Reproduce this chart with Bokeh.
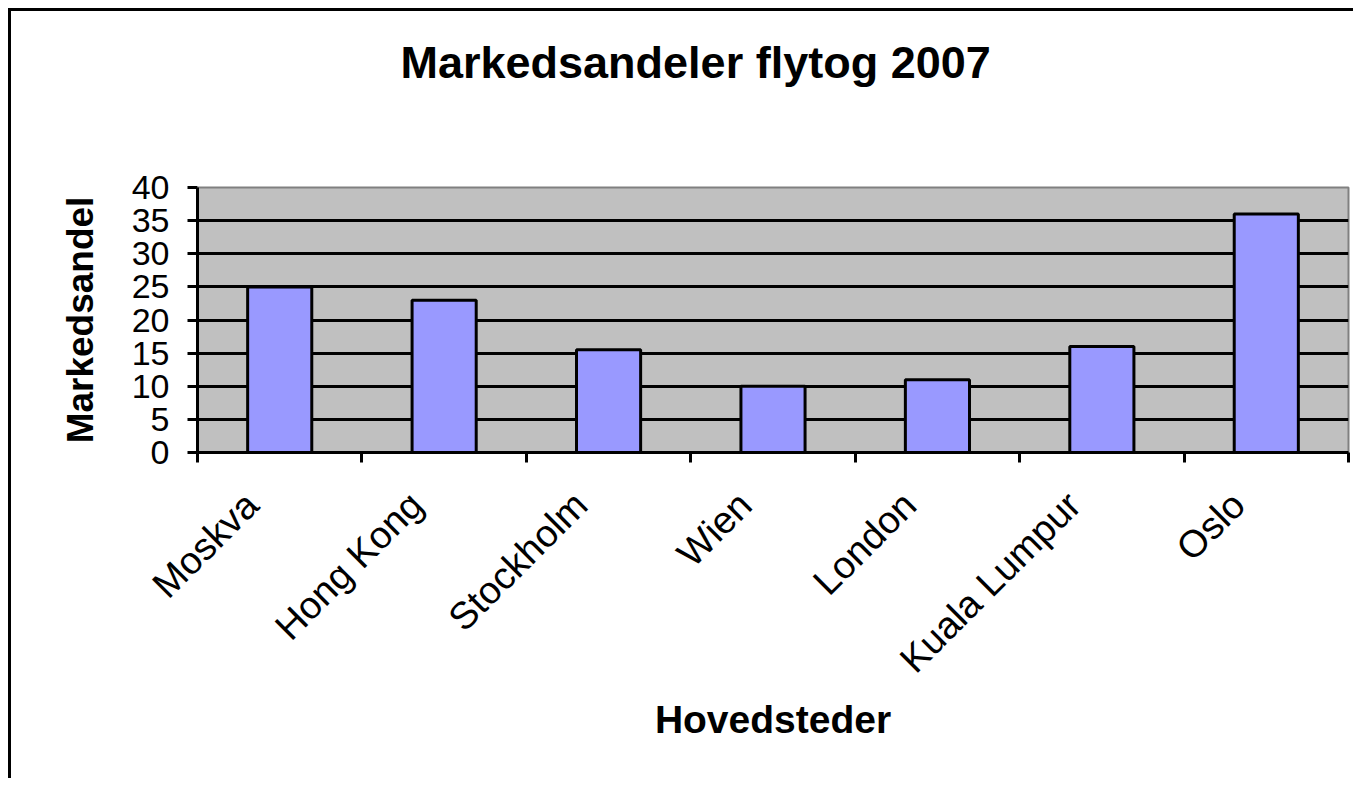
import math
from bokeh.plotting import figure
from bokeh.models import FixedTicker, Range1d, ColumnDataSource, Title, LinearAxis
from bokeh.embed import file_html
from bokeh.resources import INLINE

# ---- data ----
cities = ["Moskva", "Hong Kong", "Stockholm", "Wien", "London", "Kuala Lumpur", "Oslo"]
shares = [25, 23, 15.5, 10, 11, 16, 36]
y_ticks = [0, 5, 10, 15, 20, 25, 30, 35, 40]
title_text = "Markedsandeler flytog 2007"
x_label = "Hovedsteder"
y_label = "Markedsandel"

FONT = "Liberation Sans"
LABEL_SHIFT = 0.17  # label anchor shift (Excel-like rotated label placement)

xs = [i + 0.5 for i in range(len(cities))]
label_pos = [x - LABEL_SHIFT for x in xs]
source = ColumnDataSource(data=dict(x=xs, top=shares, city=cities))

p = figure(
    width=1345, height=770,
    x_range=Range1d(0, len(cities)), y_range=Range1d(0, 40),
    output_backend="svg", toolbar_location=None,
    min_border_left=186, min_border_top=176,
    min_border_right=8, min_border_bottom=329,
)
p.styles = {"border-left": "3px solid black", "border-top": "3px solid black",
            "margin-left": "8px", "margin-top": "8px"}

# keep references to the real axes before anything else is added
xa = p.below[0]
ya = p.left[0]

p.background_fill_color = "#C0C0C0"
p.border_fill_color = "white"
p.outline_line_color = "#808080"
p.outline_line_width = 2

# title: blank spacer axis next to the frame, real title stacked above it
p.title.text = ""
spacer = LinearAxis(ticker=FixedTicker(ticks=[0]), axis_line_color=None,
                    major_tick_line_color="white", minor_tick_line_color=None,
                    major_tick_out=88, major_tick_in=0,
                    major_label_text_color=None, major_label_standoff=0)
p.add_layout(spacer, "above")
main_title = Title(text=title_text, text_font=FONT, text_font_size="45px",
                   text_font_style="bold", text_color="black",
                   align="left", offset=203, vertical_align="top", standoff=20)
p.add_layout(main_title, "above")

# grid
p.xgrid.visible = False
p.ygrid.ticker = FixedTicker(ticks=[t for t in y_ticks if 0 < t < 40])
p.ygrid.grid_line_color = "black"
p.ygrid.grid_line_width = 3

# bars
p.vbar(x="x", top="top", width=0.39, source=source,
       fill_color="#9999FF", line_color="black", line_width=3)

# y axis
ya.ticker = FixedTicker(ticks=y_ticks)
ya.axis_line_width = 3
ya.axis_line_color = "black"
ya.major_tick_line_width = 3
ya.major_tick_line_color = "black"
ya.major_tick_out = 10
ya.major_tick_in = 0
ya.minor_tick_line_color = None
ya.major_label_text_font = FONT
ya.major_label_text_font_size = "34px"
ya.major_label_text_color = "black"
ya.major_label_standoff = 18
ya.axis_label = y_label
ya.axis_label_text_font = FONT
ya.axis_label_text_font_size = "37px"
ya.axis_label_text_font_style = "bold"
ya.axis_label_text_color = "black"
ya.axis_label_standoff = 28

# x axis
xa.ticker = FixedTicker(ticks=label_pos, minor_ticks=list(range(len(cities) + 1)))
xa.major_label_overrides = {x: c for x, c in zip(label_pos, cities)}
xa.axis_line_width = 3
xa.axis_line_color = "black"
xa.major_tick_line_color = None
xa.major_tick_out = 10
xa.minor_tick_line_color = "black"
xa.minor_tick_line_width = 3
xa.minor_tick_out = 10
xa.minor_tick_in = 0
xa.major_label_orientation = math.pi / 4
xa.major_label_text_font = FONT
xa.major_label_text_font_size = "38px"
xa.major_label_text_color = "black"
xa.major_label_standoff = 36
xa.axis_label = x_label
xa.axis_label_text_font = FONT
xa.axis_label_text_font_size = "39px"
xa.axis_label_text_font_style = "bold"
xa.axis_label_text_color = "black"
xa.axis_label_standoff = 0

open("out.html", "w").write(file_html(p, INLINE))
